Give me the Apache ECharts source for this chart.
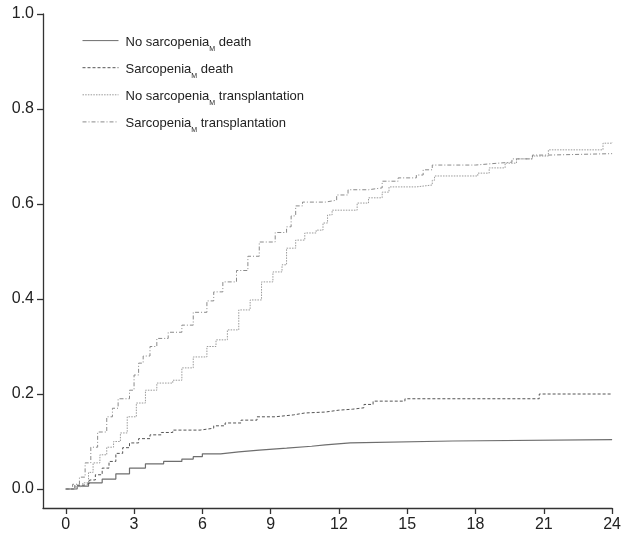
<!DOCTYPE html>
<html><head><meta charset="utf-8">
<script src="https://cdn.jsdelivr.net/npm/echarts@6/dist/echarts.min.js"></script>
<style>html,body{margin:0;padding:0;background:#fff}#c{width:624px;height:538px}</style>
</head><body><div id="c"></div>
<script>
const xTicks = [0, 3, 6, 9, 12, 15, 18, 21, 24];
const yTicks = [0, 0.2, 0.4, 0.6, 0.8, 1.0];

const noSarcDeathX = [0, 0.5, 1.0, 1.6, 2.2, 2.8, 3.5, 4.3, 5.1, 5.6, 6.0, 6.8, 7.6, 8.5, 9.7, 10.8, 11.4, 12.5, 17.0, 24];
const noSarcDeathY = [0, 0.006, 0.013, 0.021, 0.032, 0.044, 0.053, 0.058, 0.063, 0.068, 0.074, 0.078, 0.082, 0.086, 0.090, 0.093, 0.097, 0.101, 0.104, 0.104];

const sarcDeathX = [0, 0.4, 0.8, 1.05, 1.3, 1.6, 1.9, 2.2, 2.5, 2.8, 3.2, 3.7, 4.2, 4.7, 5.9, 6.5, 7.0, 7.7, 8.4, 9.2, 10.0, 10.5, 11.4, 12.0, 12.6, 13.1, 13.5, 14.9, 20.8, 24];
const sarcDeathY = [0, 0.008, 0.012, 0.019, 0.030, 0.044, 0.058, 0.075, 0.087, 0.097, 0.106, 0.114, 0.119, 0.124, 0.128, 0.133, 0.139, 0.145, 0.152, 0.156, 0.160, 0.162, 0.166, 0.168, 0.171, 0.178, 0.185, 0.190, 0.200, 0.200];

const noSarcTxX = [0, 0.4, 0.75, 1.0, 1.2, 1.5, 1.8, 2.1, 2.4, 2.7, 3.1, 3.5, 4.0, 4.7, 5.1, 5.6, 6.2, 6.6, 7.1, 7.6, 8.1, 8.6, 9.1, 9.5, 9.7, 10.1, 10.5, 11.0, 11.3, 11.5, 11.7, 12.8, 13.3, 13.9, 14.2, 15.4, 16.1, 16.2, 18.1, 18.6, 19.3, 19.8, 20.5, 21.2, 23.6, 24];
const noSarcTxY = [0, 0.005, 0.013, 0.035, 0.055, 0.072, 0.088, 0.100, 0.118, 0.152, 0.181, 0.208, 0.223, 0.229, 0.255, 0.278, 0.300, 0.314, 0.335, 0.377, 0.398, 0.436, 0.457, 0.472, 0.507, 0.524, 0.539, 0.545, 0.560, 0.577, 0.587, 0.602, 0.613, 0.625, 0.636, 0.640, 0.650, 0.659, 0.665, 0.676, 0.686, 0.695, 0.701, 0.714, 0.728, 0.730];

const sarcTxX = [0, 0.3, 0.6, 0.85, 1.1, 1.4, 1.8, 2.05, 2.3, 2.8, 3.0, 3.2, 3.4, 3.7, 4.0, 4.5, 5.1, 5.6, 6.2, 6.5, 6.9, 7.5, 8.0, 8.5, 9.2, 9.7, 9.9, 10.1, 10.4, 11.4, 11.9, 12.4, 13.3, 13.9, 14.6, 15.4, 15.7, 16.1, 18.0, 19.0, 19.6, 20.5, 21.2, 24];
const sarcTxY = [0, 0.010, 0.025, 0.055, 0.088, 0.120, 0.152, 0.170, 0.190, 0.208, 0.240, 0.265, 0.280, 0.300, 0.317, 0.330, 0.345, 0.372, 0.396, 0.415, 0.436, 0.460, 0.490, 0.520, 0.540, 0.552, 0.575, 0.596, 0.604, 0.608, 0.619, 0.630, 0.634, 0.648, 0.655, 0.661, 0.672, 0.682, 0.686, 0.688, 0.695, 0.703, 0.706, 0.706];

const seriesNames = ['noSarcDeath', 'sarcDeath', 'noSarcTx', 'sarcTx'];
const legendLabels = {
  noSarcDeath: ['No sarcopenia', 'M', ' death'],
  sarcDeath: ['Sarcopenia', 'M', ' death'],
  noSarcTx: ['No sarcopenia', 'M', ' transplantation'],
  sarcTx: ['Sarcopenia', 'M', ' transplantation']
};

function pts(xs, ys) { return xs.map((x, i) => [x, ys[i]]); }

const styles = {
  noSarcDeath: { color: '#6e6e6e', width: 1.2, type: 'solid' },
  sarcDeath: { color: '#555555', width: 1.0, type: [3, 2] },
  noSarcTx: { color: '#9a9a9a', width: 1.0, type: [1.5, 1.2] },
  sarcTx: { color: '#8a8a8a', width: 1.0, type: [4, 2, 1, 2] }
};
const dataMap = {
  noSarcDeath: pts(noSarcDeathX, noSarcDeathY),
  sarcDeath: pts(sarcDeathX, sarcDeathY),
  noSarcTx: pts(noSarcTxX, noSarcTxY),
  sarcTx: pts(sarcTxX, sarcTxY)
};

const chart = echarts.init(document.getElementById('c'), null, { renderer: 'canvas' });
const font = '"Liberation Sans", Arial, sans-serif';
chart.setOption({
  animation: false,
  backgroundColor: '#fff',
  grid: { left: 43, right: 10, top: 14, bottom: 30, containLabel: false },
  legend: {
    show: true,
    orient: 'vertical', left: 77, top: 30,
    itemWidth: 36, itemHeight: 14, itemGap: 9.5,
    data: seriesNames,
    itemStyle: { opacity: 0, borderWidth: 0 },
    lineStyle: { width: 1 },
    formatter: function (n) { const l = legendLabels[n]; return '{a|' + l[0] + '}{s|' + l[1] + '}{a|' + l[2] + '}'; },
    textStyle: {
      fontFamily: font, color: '#222', fontSize: 13, padding: [0, 0, 0, 2],
      rich: {
        a: { fontSize: 13, fontFamily: font, color: '#222', verticalAlign: 'bottom', lineHeight: 16 },
        s: { fontSize: 7, fontFamily: font, color: '#222', verticalAlign: 'bottom', lineHeight: 16, padding: [0, 0, -4, 0] }
      }
    }
  },
  xAxis: {
    type: 'value', min: -1, max: 24,
    splitLine: { show: false },
    axisLine: { show: true, onZero: false, lineStyle: { color: '#333', width: 1.3 } },
    axisTick: { show: true, length: 6, lineStyle: { color: '#333', width: 1.3 }, customValues: xTicks },
    axisLabel: { customValues: xTicks, fontSize: 16, color: '#222', fontFamily: font, margin: 9 }
  },
  yAxis: {
    type: 'value', min: -0.04, max: 1.0,
    splitLine: { show: false },
    axisLine: { show: true, onZero: false, lineStyle: { color: '#333', width: 1.3 } },
    axisTick: { show: true, length: 6, lineStyle: { color: '#333', width: 1.3 }, customValues: yTicks },
    axisLabel: { customValues: yTicks, fontSize: 16, color: '#222', fontFamily: font, margin: 9,
      formatter: v => v.toFixed(1) }
  },
  series: seriesNames.map(n => ({
    name: n, type: 'line', step: 'end', showSymbol: false, symbol: 'none',
    data: dataMap[n],
    itemStyle: { color: styles[n].color },
    lineStyle: { color: styles[n].color, width: styles[n].width, type: styles[n].type }
  }))
});
</script></body></html>
